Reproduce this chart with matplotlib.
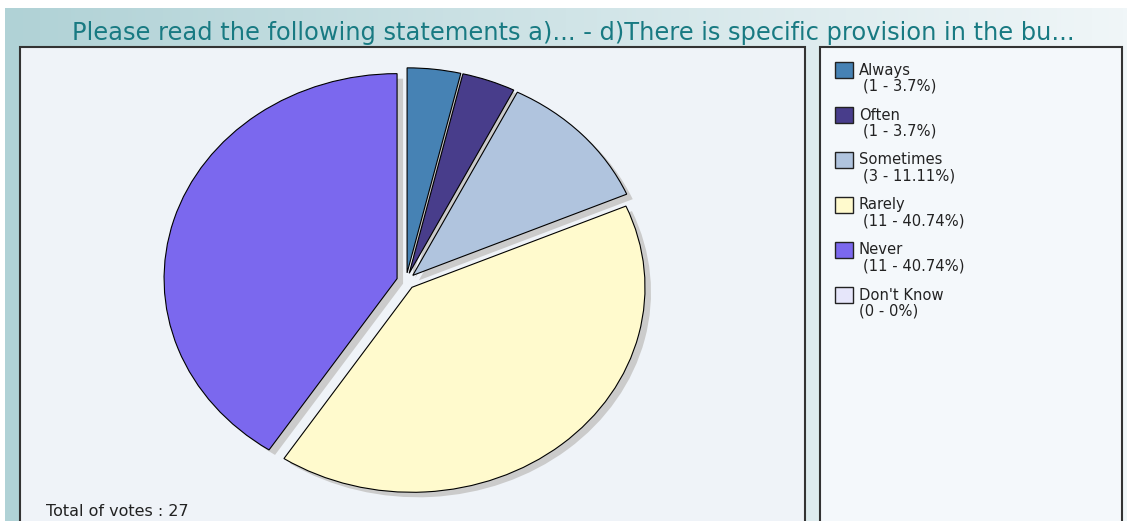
import numpy as np
import matplotlib.pyplot as plt
from matplotlib.patches import Rectangle

# Survey answers #
labels = ['Always', 'Often', 'Sometimes', 'Rarely', 'Never', "Don't Know"]
votes = [1, 1, 3, 11, 11, 0]
percents = ['3.7%', '3.7%', '11.11%', '40.74%', '40.74%', '0%']
colors = ['#4682b4', '#483d8b', '#b0c4de', '#fffacd', '#7b68ee', '#e6e6fa']
title = 'Please read the following statements a)... - d)There is specific provision in the bu...'

W, H = 1131, 521
fig = plt.figure(figsize=(W / 100, H / 100), dpi=100)

# Background layer in pixel coordinates #
bg = fig.add_axes([0, 0, 1, 1])
bg.set_xlim(0, W)
bg.set_ylim(H, 0)
bg.axis('off')

grad = np.linspace(0, 1, 256)
c0 = np.array([176, 210, 214]) / 255
c1 = np.array([240, 246, 248]) / 255
img = (c0[None, :] * (1 - grad[:, None]) + c1[None, :] * grad[:, None])[None, :, :]
bg.add_patch(Rectangle((0, 0), W, H, color='white', zorder=0))
bg.imshow(img, extent=(5, W - 4, H, 8), aspect='auto', zorder=1)

# Chart panel and legend panel #
bg.add_patch(Rectangle((20, 47), 785, 500, facecolor='#eff3f8',
                       edgecolor='#333333', lw=1.5, zorder=2))
bg.add_patch(Rectangle((820, 47), 302, 500, facecolor='#f4f8fb',
                       edgecolor='#333333', lw=1.5, zorder=2))

bg.text(573, 33, title, color='#187a82', fontsize=17.4,
        ha='center', va='center', zorder=3)
bg.text(46, 512, 'Total of votes : 27', color='#222222', fontsize=11.5,
        ha='left', va='center', zorder=3)

# Legend entries #
for i, (lab, v, p, c) in enumerate(zip(labels, votes, percents, colors)):
    y = 62 + i * 45
    bg.add_patch(Rectangle((835, y), 18, 16, facecolor=c,
                           edgecolor='#222222', lw=1.0, zorder=3))
    bg.text(859, y + 8, lab, color='#222222', fontsize=10.6,
            ha='left', va='center', zorder=3)
    xoff = 863 if v > 0 else 859
    bg.text(xoff, y + 24, '(%d - %s)' % (v, p), color='#222222',
            fontsize=10.6, ha='left', va='center', zorder=3)

# Pie, drawn as an ellipse #
cx, cy, rx, ry = 406, 281, 233, 205
m = 1.35
pax = fig.add_axes([(cx - m * rx) / W, 1 - (cy + m * ry) / H,
                    2 * m * rx / W, 2 * m * ry / H])
pax.patch.set_alpha(0)

vals = [v for v in votes if v > 0]
cols = [c for v, c in zip(votes, colors) if v > 0]
expl = [0.04] * len(vals)

# shadow first, shifted right and down #
pax.pie(vals, colors=['#cbcbcb'] * len(vals), explode=expl, startangle=90,
        counterclock=False, center=(6 / rx, -5 / ry),
        wedgeprops=dict(linewidth=0))
pax.pie(vals, colors=cols, explode=expl, startangle=90, counterclock=False,
        wedgeprops=dict(edgecolor='black', linewidth=0.8))

pax.set_aspect('auto')
pax.set_xlim(-m, m)
pax.set_ylim(-m, m)
pax.axis('off')

# keep the pie inside the chart panel #
clip = Rectangle((20, 47), 785, 500, transform=bg.transData)
for art in pax.patches:
    art.set_clip_path(clip)

plt.savefig('out.png', dpi=100)
